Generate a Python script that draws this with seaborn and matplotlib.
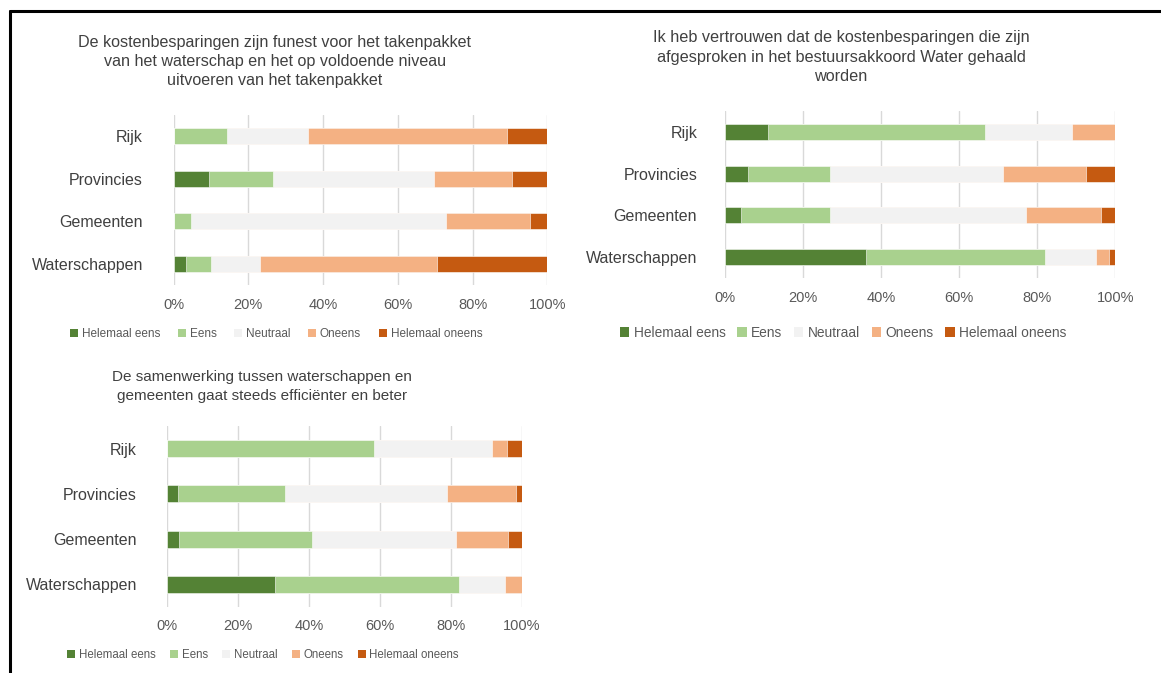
import matplotlib
matplotlib.use("Agg")
import matplotlib.pyplot as plt
from matplotlib.lines import Line2D
from matplotlib.patches import Patch
import pandas as pd
import seaborn as sns

# ==========================================
# DATA (percentages)
# ==========================================
categories = ["Rijk", "Provincies", "Gemeenten", "Waterschappen"]
levels = ["Helemaal eens", "Eens", "Neutraal", "Oneens", "Helemaal oneens"]
colors = ["#548235", "#A9D18E", "#F2F2F2", "#F4B183", "#C55A11"]

title_1 = ("De kostenbesparingen zijn funest voor het takenpakket\n"
           "van het waterschap en het op voldoende niveau\n"
           "uitvoeren van het takenpakket")
helemaal_eens_1 = [0.0, 9.5, 0.0, 3.3]
eens_1 = [14.3, 17.1, 4.7, 6.6]
neutraal_1 = [21.6, 43.2, 68.1, 13.2]
oneens_1 = [53.3, 20.8, 22.6, 47.3]
helemaal_oneens_1 = [10.8, 9.4, 4.6, 29.6]

title_2 = ("Ik heb vertrouwen dat de kostenbesparingen die zijn\n"
           "afgesproken in het bestuursakkoord Water gehaald\n"
           "worden")
helemaal_eens_2 = [11.1, 5.9, 4.0, 36.2]
eens_2 = [55.6, 21.0, 22.9, 45.9]
neutraal_2 = [22.2, 44.3, 50.1, 13.0]
oneens_2 = [11.1, 21.2, 19.3, 3.3]
helemaal_oneens_2 = [0.0, 7.6, 3.7, 1.6]

title_3 = ("De samenwerking tussen waterschappen en\n"
           "gemeenten gaat steeds efficiënter en beter")
helemaal_eens_3 = [0.0, 3.3, 3.6, 30.6]
eens_3 = [58.3, 29.9, 37.2, 51.7]
neutraal_3 = [33.3, 45.8, 40.6, 12.9]
oneens_3 = [4.2, 19.2, 14.8, 4.8]
helemaal_oneens_3 = [4.2, 1.8, 3.8, 0.0]

x_ticks = [0, 20, 40, 60, 80, 100]
x_tick_labels = ["0%", "20%", "40%", "60%", "80%", "100%"]

TEXT = "#404040"
TICK = "#595959"
GRID = "#D9D9D9"


def stacked_panel(ax, series, title, title_xy, title_fs, title_ls,
                  legend_xy, legend_fs, legend_cs, label_pad, fig):
    df = pd.DataFrame(dict(zip(levels, series)), index=categories)
    cum = df.cumsum(axis=1)
    # draw cumulative totals back to front so each segment shows
    for lvl, col in reversed(list(zip(levels, colors))):
        plot_df = pd.DataFrame({"Categorie": categories, "Waarde": cum[lvl].values})
        sns.barplot(data=plot_df, x="Waarde", y="Categorie", color=col,
                    width=0.38, orient="h", saturation=1, edgecolor="white",
                    linewidth=0.4, zorder=3, ax=ax)

    ax.set_xlim(0, 100)
    ax.set_ylim(3.5, -0.5)
    ax.set_xticks(x_ticks)
    ax.set_xticklabels(x_tick_labels)
    ax.set_xlabel("")
    ax.set_ylabel("")
    ax.grid(axis="x", color=GRID, linewidth=1.0, zorder=0)
    ax.grid(axis="y", visible=False)
    ax.set_axisbelow(True)
    for sp in ax.spines.values():
        sp.set_visible(False)
    ax.tick_params(axis="x", length=0, labelsize=10.5, colors=TICK, pad=9)
    ax.tick_params(axis="y", length=0, labelsize=11.5, colors=TEXT, pad=label_pad)

    fig.text(title_xy[0], title_xy[1], title, ha="center", va="top",
             fontsize=title_fs, color=TEXT, linespacing=title_ls)

    handles = [Patch(facecolor=c, edgecolor="none", label=l) for l, c in zip(levels, colors)]
    fig.legend(handles=handles, loc="center", bbox_to_anchor=legend_xy, ncol=5,
               frameon=False, fontsize=legend_fs, handlelength=0.7, handleheight=0.7,
               handletextpad=0.3, columnspacing=legend_cs, labelcolor=TICK)


def main():
    sns.set_theme(style="white")
    plt.rcParams["font.family"] = ["Liberation Sans", "DejaVu Sans"]

    W, H = 1161, 673
    fig = plt.figure(figsize=(W / 100, H / 100), dpi=100)

    def box(l, r, t, b):
        return [l / W, 1 - b / H, (r - l) / W, (b - t) / H]

    ax1 = fig.add_axes(box(173.5, 547.3, 115, 285))
    ax2 = fig.add_axes(box(725, 1115.3, 111, 278))
    ax3 = fig.add_axes(box(166.7, 522, 426, 607))

    stacked_panel(ax1, [helemaal_eens_1, eens_1, neutraal_1, oneens_1, helemaal_oneens_1],
                  title_1, (275 / W, 1 - 35 / H), 11.6, 1.35,
                  (276 / W, 1 - 334 / H), 8.5, 1.5, 22, fig)
    stacked_panel(ax2, [helemaal_eens_2, eens_2, neutraal_2, oneens_2, helemaal_oneens_2],
                  title_2, (841 / W, 1 - 30 / H), 11.7, 1.38,
                  (843 / W, 1 - 333 / H), 9.9, 0.85, 20, fig)
    stacked_panel(ax3, [helemaal_eens_3, eens_3, neutraal_3, oneens_3, helemaal_oneens_3],
                  title_3, (262 / W, 1 - 370 / H), 11.0, 1.45,
                  (263 / W, 1 - 655 / H), 8.3, 1.25, 21.5, fig)

    # surrounding frame (top and left edge of the figure box)
    fig.add_artist(Line2D([9.5 / W, 1], [1 - 11 / H, 1 - 11 / H], color="black", linewidth=2.2))
    fig.add_artist(Line2D([9.5 / W, 9.5 / W], [0, 1 - 11 / H], color="black", linewidth=2.2))

    fig.savefig("out.png", dpi=100)
    plt.close(fig)


if __name__ == "__main__":
    main()
